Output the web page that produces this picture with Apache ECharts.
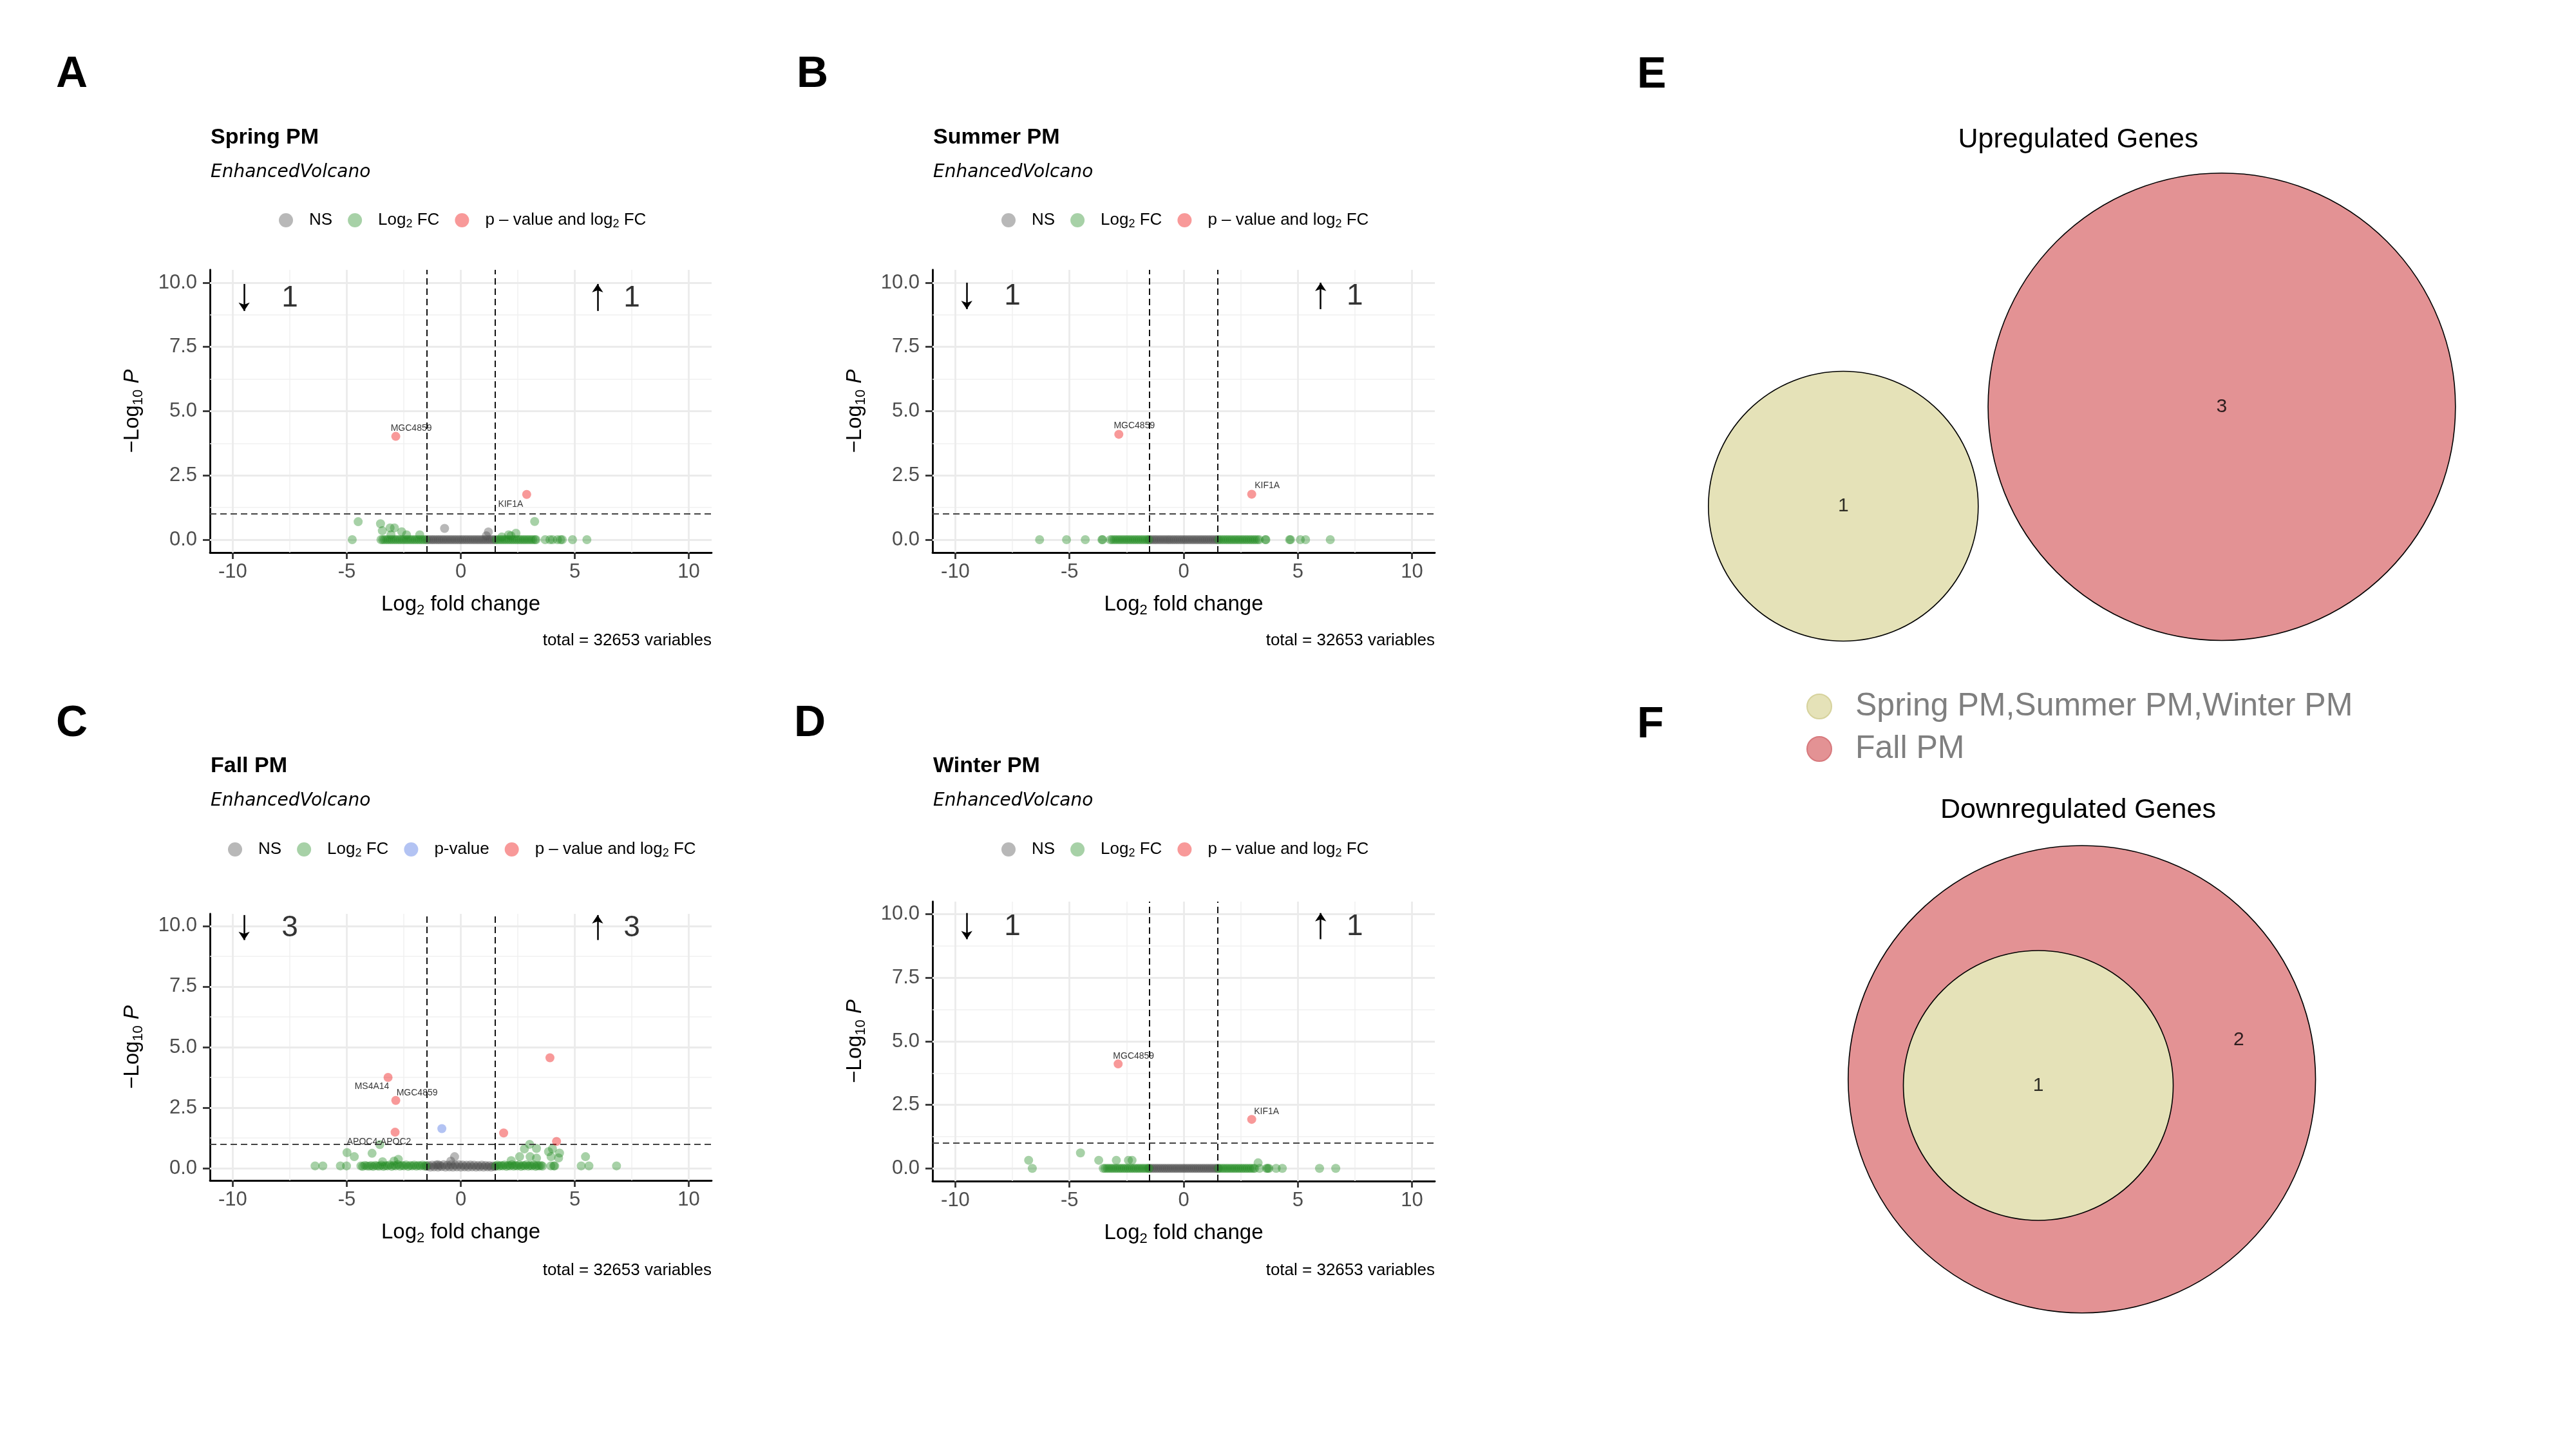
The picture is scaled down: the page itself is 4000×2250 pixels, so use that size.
<!DOCTYPE html>
<html><head><meta charset="utf-8">
<script src="https://cdn.jsdelivr.net/npm/echarts@6/dist/echarts.min.js"></script>
<style>html,body{margin:0;padding:0;background:#fff}#c{width:4000px;height:2250px}</style>
</head><body><div id="c"></div>
<script>
// ================= DATA =================
const volcanoTitles = ['Spring PM', 'Summer PM', 'Fall PM', 'Winter PM'];
const volcanoSubtitle = 'EnhancedVolcano';
const volcanoCaption = 'total = 32653 variables';
const panelLetters = ['A', 'B', 'C', 'D', 'E', 'F'];
const xTicks = [-10, -5, 0, 5, 10];
const xMinorTicks = [-7.5, -2.5, 2.5, 7.5];
const yTicks = [0, 2.5, 5, 7.5, 10];
const yMinorTicks = [1.25, 3.75, 6.25, 8.75];
const xRange = [-11, 11];
const yRange = [-0.5, 10.5];
const fcCutoffs = [-1.5, 1.5];
const pCutoff = 1;
const legendNames = { NS: 'NS', FC: 'Log2 FC', P: 'p-value', SIG: 'p-value and log2 FC' };

// Spring PM
const springNSBand = [-1.48,-1.4,-1.31,-1.23,-1.15,-1.06,-0.98,-0.9,-0.81,-0.73,-0.64,-0.56,-0.47,-0.39,-0.3,-0.22,-0.13,-0.05,0.04,0.12,0.21,0.29,0.38,0.46,0.55,0.63,0.72,0.8,0.89,0.97,1.06,1.14,1.23,1.31,1.4,1.48];
const springNSPts = [[-0.71,0.44],[1.21,0.3],[1.12,0.15]];
const springFCBand = [-3.5,-3.42,-3.34,-3.25,-3.17,-3.08,-3.0,-2.91,-2.83,-2.74,-2.66,-2.57,-2.49,-2.4,-2.32,-2.23,-2.15,-2.06,-1.98,-1.89,-1.81,-1.72,-1.64,-1.55,1.55,1.63,1.72,1.8,1.89,1.97,2.06,2.14,2.23,2.31,2.4,2.48,2.57,2.65,2.74,2.82,2.91,2.99,3.08,3.16,3.25,3.3];
const springFCPts = [[-4.76,0],[-4.5,0.7],[-3.52,0.62],[-3.44,0.35],[-3.1,0.46],[-2.91,0.46],[-3.06,0.19],[-2.59,0.31],[-2.38,0.19],[-1.8,0.19],[1.8,0.11],[2.1,0.19],[2.2,0.15],[2.42,0.25],[3.24,0.71],[3.7,0],[3.91,0],[4.03,0],[4.24,0],[4.38,0],[4.45,0],[4.9,0],[5.53,0]];
const springSig = [[-2.85,4.02,'MGC4859'],[2.89,1.76,'KIF1A']];
const springCounts = [1, 1]; // [down, up]

// Summer PM
const summerNSBand = [-1.49,-1.41,-1.32,-1.24,-1.16,-1.07,-0.99,-0.9,-0.82,-0.73,-0.65,-0.57,-0.48,-0.4,-0.31,-0.23,-0.14,-0.06,0.03,0.11,0.2,0.28,0.37,0.45,0.54,0.62,0.71,0.79,0.88,0.96,1.05,1.13,1.22,1.3,1.39,1.47];
const summerNSPts = [];
const summerFCBand = [-3.21,-3.13,-3.04,-2.96,-2.87,-2.79,-2.7,-2.62,-2.53,-2.45,-2.36,-2.28,-2.19,-2.11,-2.02,-1.94,-1.85,-1.77,-1.68,-1.6,-1.53,1.53,1.61,1.7,1.78,1.87,1.95,2.04,2.12,2.21,2.29,2.38,2.46,2.55,2.63,2.72,2.8,2.89,2.97,3.06,3.14,3.23,3.31];
const summerFCPts = [[-6.31,0],[-5.13,0],[-4.31,0],[-3.58,0],[-3.55,0],[3.58,0],[3.6,0],[4.64,0],[4.68,0],[5.11,0],[5.34,0],[6.42,0]];
const summerSig = [[-2.84,4.1,'MGC4859'],[2.98,1.77,'KIF1A']];
const summerCounts = [1, 1];

// Fall PM
const fallNSBand = [[-1.49,0.08],[-1.41,0.12],[-1.33,0.05],[-1.25,0.13],[-1.17,0.06],[-1.08,0.14],[-1.0,0.05],[-0.92,0.12],[-0.84,0.07],[-0.75,0.15],[-0.67,0.05],[-0.59,0.13],[-0.5,0.06],[-0.42,0.15],[-0.34,0.05],[-0.25,0.14],[-0.17,0.06],[-0.09,0.15],[0.0,0.05],[0.08,0.14],[0.17,0.06],[0.25,0.13],[0.33,0.05],[0.42,0.14],[0.5,0.06],[0.58,0.13],[0.67,0.05],[0.75,0.12],[0.83,0.06],[0.92,0.13],[1.0,0.05],[1.08,0.12],[1.17,0.06],[1.25,0.11],[1.33,0.05],[1.41,0.1],[1.49,0.07]];
const fallNSPts = [[-0.27,0.48],[-0.44,0.3],[-1.0,0.15]];
const fallFCBand = [[-4.38,0.1],[-4.3,0.08],[-4.21,0.12],[-4.12,0.1],[-4.02,0.09],[-3.93,0.11],[-3.84,0.08],[-3.75,0.12],[-3.66,0.1],[-3.57,0.09],[-3.48,0.13],[-3.39,0.08],[-3.3,0.11],[-3.21,0.1],[-3.12,0.14],[-3.03,0.08],[-2.94,0.12],[-2.85,0.1],[-2.76,0.15],[-2.67,0.09],[-2.58,0.12],[-2.49,0.1],[-2.4,0.14],[-2.31,0.08],[-2.22,0.12],[-2.13,0.1],[-2.04,0.13],[-1.95,0.09],[-1.86,0.12],[-1.77,0.1],[-1.68,0.13],[-1.59,0.09],[-1.53,0.11],[1.53,0.1],[1.6,0.13],[1.68,0.09],[1.76,0.12],[1.84,0.1],[1.92,0.14],[2.0,0.08],[2.08,0.12],[2.16,0.1],[2.24,0.15],[2.32,0.09],[2.4,0.12],[2.48,0.1],[2.56,0.14],[2.64,0.08],[2.72,0.12],[2.8,0.1],[2.88,0.15],[2.96,0.09],[3.04,0.12],[3.12,0.1],[3.2,0.14],[3.28,0.08],[3.36,0.11],[3.44,0.1],[3.52,0.12],[3.58,0.09]];
const fallFCPts = [[-6.39,0.1],[-6.05,0.1],[-5.28,0.1],[-5.01,0.1],[-4.99,0.65],[-4.67,0.48],[-3.89,0.62],[-3.55,0.98],[-3.43,0.27],[-2.93,0.3],[-2.74,0.37],[3.02,0.99],[2.79,0.8],[3.32,0.82],[2.58,0.48],[3.04,0.48],[3.32,0.42],[2.21,0.32],[3.85,0.69],[4.02,0.81],[3.96,0.48],[4.29,0.43],[4.33,0.63],[5.47,0.48],[5.28,0.1],[5.62,0.1],[6.83,0.1],[3.95,0.1],[4.08,0.1],[4.12,0.1]];
const fallPval = [[-0.83,1.64]];
const fallSig = [[3.91,4.56,''],[-3.19,3.75,'MS4A14'],[-2.85,2.8,'MGC4859'],[-2.88,1.49,'APOC4-APOC2'],[1.88,1.46,''],[4.2,1.11,'']];
const fallCounts = [3, 3];

// Winter PM
const winterNSBand = [-1.48,-1.39,-1.31,-1.22,-1.14,-1.05,-0.97,-0.88,-0.8,-0.71,-0.63,-0.54,-0.46,-0.37,-0.29,-0.2,-0.12,-0.03,0.05,0.14,0.22,0.31,0.39,0.48,0.56,0.65,0.73,0.82,0.9,0.99,1.07,1.16,1.24,1.33,1.41,1.49];
const winterNSPts = [];
const winterFCBand = [-3.52,-3.44,-3.35,-3.27,-3.18,-3.1,-3.01,-2.93,-2.84,-2.76,-2.67,-2.59,-2.5,-2.42,-2.33,-2.25,-2.16,-2.08,-1.99,-1.91,-1.82,-1.74,-1.65,-1.57,-1.52,1.52,1.6,1.69,1.77,1.86,1.94,2.03,2.11,2.2,2.28,2.37,2.45,2.54,2.62,2.71,2.79,2.88,2.96,3.05,3.11];
const winterFCPts = [[-6.79,0.32],[-6.63,0],[-4.52,0.61],[-3.72,0.32],[-2.95,0.32],[-2.42,0.32],[-2.26,0.32],[3.26,0.22],[3.32,0],[3.63,0],[3.68,0],[3.73,0],[4.05,0],[4.32,0],[5.95,0],[6.66,0]];
const winterSig = [[-2.87,4.11,'MGC4859'],[2.98,1.93,'KIF1A']];
const winterCounts = [1, 1];

// Venn diagrams
const vennTitles = ['Upregulated Genes', 'Downregulated Genes'];
const vennSetNames = ['Spring PM,Summer PM,Winter PM', 'Fall PM'];
const upSetSizes = [1, 3];
const upCenters = [[0, 0], [2.805, 0.737]];
const upRegionLabels = [['1', 0, 0], ['3', 2.805, 0.737]];
const downSetSizes = [1, 3];
const downCenters = [[-0.323, -0.046], [0, 0]];
const downRegionLabels = [['1', -0.323, -0.046], ['2', 1.163, 0.293]];

// ================= STYLE / LAYOUT =================
const FONT = "'Liberation Sans', Arial, Helvetica, sans-serif";
const COL = { NS: 'rgba(77,77,77,0.5)', FC: 'rgba(34,139,34,0.5)', P: 'rgba(65,105,225,0.5)', SIG: 'rgba(238,0,0,0.5)' };
const VENN_COL = ['#E5E2B8', '#E39294'];
const VENN_BORDER = ['#D6D29C', '#D7797D'];
const layouts = [
  { grid: {left: 326, top: 419, width: 779, height: 439}, legendLeft: 428, legendTop: 324, titleX: 327, titleY: 214, subY: 268, captionX: 1105, captionY: 995, letter: [87, 116], countY: 9.4, arrowY: [9.95, 8.9],
    labelOff: {MGC4859: [24, -12], KIF1A: [-25, 15]} },
  { grid: {left: 1448, top: 419, width: 780, height: 439}, legendLeft: 1550, legendTop: 324, titleX: 1449, titleY: 214, subY: 268, captionX: 2228, captionY: 995, letter: [1237, 116], countY: 9.47, arrowY: [10.0, 8.97],
    labelOff: {MGC4859: [24, -13], KIF1A: [24, -13]} },
  { grid: {left: 326, top: 1419, width: 779, height: 414}, legendLeft: 349, legendTop: 1301, titleX: 327, titleY: 1190, subY: 1244, captionX: 1105, captionY: 1973, letter: [87, 1124], countY: 9.9, arrowY: [10.45, 9.42],
    labelOff: {MS4A14: [-25, 14], MGC4859: [33, -12], 'APOC4-APOC2': [-25, 15]} },
  { grid: {left: 1448, top: 1400, width: 780, height: 434}, legendLeft: 1550, legendTop: 1301, titleX: 1449, titleY: 1190, subY: 1244, captionX: 2228, captionY: 1973, letter: [1233, 1124], countY: 9.5, arrowY: [10.05, 9.02],
    labelOff: {MGC4859: [24, -12], KIF1A: [23, -12]} }
];
const vennUnitPx = 209.5;
const vennLayouts = [
  { grid: {left: 2600, top: 240, width: 1300, height: 800}, origin: [2862.3, 786], title: [3227, 217], letter: [2542, 117] },
  { grid: {left: 2800, top: 1280, width: 860, height: 800}, origin: [3232.7, 1675.9], title: [3227, 1258], letter: [2542, 1126] }
];

// ================= BUILD =================
const panelsData = [
  { ns: springNSBand.map(x => [x, 0]).concat(springNSPts), fc: springFCBand.map(x => [x, 0]).concat(springFCPts), pv: [], sig: springSig, counts: springCounts },
  { ns: summerNSBand.map(x => [x, 0]).concat(summerNSPts), fc: summerFCBand.map(x => [x, 0]).concat(summerFCPts), pv: [], sig: summerSig, counts: summerCounts },
  { ns: fallNSBand.concat(fallNSPts), fc: fallFCBand.concat(fallFCPts), pv: fallPval, sig: fallSig, counts: fallCounts },
  { ns: winterNSBand.map(x => [x, 0]).concat(winterNSPts), fc: winterFCBand.map(x => [x, 0]).concat(winterFCPts), pv: [], sig: winterSig, counts: winterCounts }
];

const grids = [], xAxes = [], yAxes = [], series = [], legends = [], graphics = [];
const richName = {
  t: {fontSize: 33, lineHeight: 40, color: '#000', fontFamily: FONT},
  s: {fontSize: 22, lineHeight: 16, verticalAlign: 'bottom', color: '#000', fontFamily: FONT},
  i: {fontSize: 33, lineHeight: 40, color: '#000', fontFamily: FONT, fontStyle: 'italic'}
};
const legendFmt = {
  'NS': '{t|NS}',
  'Log2 FC': '{t|Log}{s|2}{t| FC}',
  'p-value': '{t|p-value}',
  'p-value and log2 FC': '{t|p \u2013 value and log}{s|2}{t| FC}'
};
function txt(x, y, text, font, fill, align, valign) {
  return { type: 'text', x: x, y: y, silent: true, z: 100,
    style: { text: text, font: font, fill: fill || '#000', align: align || 'left', verticalAlign: valign || 'middle',
      textAlign: align || 'left', textVerticalAlign: valign || 'middle' } };
}
function gridLineItems() {
  const major = {color: '#EBEBEB', width: 2.8, type: 'solid'};
  const minor = {color: '#F0F0F0', width: 1.5, type: 'solid'};
  return [].concat(
    xMinorTicks.map(v => ({xAxis: v, lineStyle: minor})),
    yMinorTicks.map(v => ({yAxis: v, lineStyle: minor})),
    xTicks.map(v => ({xAxis: v, lineStyle: major})),
    yTicks.map(v => ({yAxis: v, lineStyle: major}))
  );
}

panelsData.forEach((d, i) => {
  const L = layouts[i];
  grids.push(Object.assign({containLabel: false, outerBoundsMode: 'none'}, L.grid));
  xAxes.push({
    gridIndex: i, type: 'value', min: xRange[0], max: xRange[1],
    axisLine: {show: true, onZero: false, lineStyle: {color: '#000', width: 2.8}},
    axisTick: {show: true, customValues: xTicks, length: 10, lineStyle: {color: '#333', width: 2.8}},
    axisLabel: {customValues: xTicks, fontSize: 31, color: '#4D4D4D', margin: 15, fontFamily: FONT, formatter: v => String(v)},
    splitLine: {show: false},
    name: '{t|Log}{s|2}{t| fold change}', nameLocation: 'middle', nameGap: 61,
    nameTextStyle: {rich: richName}
  });
  yAxes.push({
    gridIndex: i, type: 'value', min: yRange[0], max: yRange[1],
    axisLine: {show: true, onZero: false, lineStyle: {color: '#000', width: 2.8}},
    axisTick: {show: true, customValues: yTicks, length: 11, lineStyle: {color: '#333', width: 2.8}},
    axisLabel: {customValues: yTicks, fontSize: 31, color: '#4D4D4D', margin: 20, fontFamily: FONT, formatter: v => v.toFixed(1)},
    splitLine: {show: false},
    name: '{t|\u2212Log}{s|10}{i| P}', nameLocation: 'middle', nameGap: 100, nameRotate: 90,
    nameTextStyle: {rich: richName}
  });
  // background grid lines (below the points)
  series.push({ type: 'scatter', name: '_grid' + i, xAxisIndex: i, yAxisIndex: i, data: [], z: 1, silent: true,
    markLine: { z: 1, silent: true, symbol: ['none', 'none'], label: {show: false}, animation: false, data: gridLineItems() } });
  const pt = (name, data, color, z) => ({ type: 'scatter', name: name, xAxisIndex: i, yAxisIndex: i, data: data, symbol: 'circle',
    symbolSize: 14, itemStyle: {color: color}, z: z, silent: true, animation: false });
  series.push(pt(legendNames.NS, d.ns, COL.NS, 2));
  series.push(pt(legendNames.FC, d.fc, COL.FC, 2));
  if (d.pv.length) series.push(pt(legendNames.P, d.pv, COL.P, 2));
  // cutoff lines (above the points)
  series.push({ type: 'scatter', name: '_cut' + i, xAxisIndex: i, yAxisIndex: i, data: [], z: 3, silent: true,
    markLine: { z: 3, silent: true, symbol: ['none', 'none'], label: {show: false}, animation: false,
      data: fcCutoffs.map(v => ({xAxis: v, lineStyle: {color: '#111', width: 2, type: [10, 6]}}))
        .concat([{yAxis: pCutoff, lineStyle: {color: '#444', width: 2, type: [10, 6]}}]) } });
  // significant points with labels
  const sigSeries = pt(legendNames.SIG, d.sig.map(s => {
    const off = L.labelOff[s[2]] || [0, 0];
    return { value: [s[0], s[1]], name: s[2],
      label: { show: !!s[2], position: 'inside', offset: off, formatter: s[2], fontSize: 14, color: '#000', fontFamily: FONT } };
  }), COL.SIG, 4);
  series.push(sigSeries);
  // up / down count annotations
  series.push({ type: 'scatter', name: '_count' + i, xAxisIndex: i, yAxisIndex: i, z: 5, silent: true, symbol: 'circle', symbolSize: 1,
    itemStyle: {color: 'rgba(0,0,0,0)'},
    data: [ {value: [-7.5, L.countY], name: String(d.counts[0])}, {value: [7.5, L.countY], name: String(d.counts[1])} ],
    label: { show: true, position: 'inside', formatter: p => p.name, fontSize: 46, color: '#000', fontFamily: FONT },
    markLine: { z: 5, silent: true, symbol: ['none', 'arrow'], symbolSize: 13, label: {show: false}, animation: false,
      lineStyle: {color: '#000', width: 2.5, type: 'solid'},
      data: [ [{coord: [-9.5, L.arrowY[0]]}, {coord: [-9.5, L.arrowY[1]]}], [{coord: [6, L.arrowY[1]]}, {coord: [6, L.arrowY[0]]}] ] } });
  // legend
  const items = [legendNames.NS, legendNames.FC].concat(d.pv.length ? [legendNames.P] : []).concat([legendNames.SIG]);
  legends.push({ orient: 'horizontal', left: L.legendLeft, top: L.legendTop, icon: 'circle', itemWidth: 22, itemHeight: 22, itemGap: 24,
    selectedMode: false, data: items, formatter: n => legendFmt[n],
    textStyle: { padding: [0, 0, 0, 20], fontSize: 26, color: '#000', fontFamily: FONT,
      rich: { t: {fontSize: 26, lineHeight: 30, color: '#000', fontFamily: FONT},
              s: {fontSize: 18, lineHeight: 14, verticalAlign: 'bottom', color: '#000', fontFamily: FONT} } } });
  // texts
  graphics.push(txt(L.letter[0], L.letter[1], panelLetters[i], "bold 68px 'Liberation Sans', Arial"));
  graphics.push(txt(L.titleX, L.titleY, volcanoTitles[i], "bold 34px 'Liberation Sans', Arial"));
  graphics.push(txt(L.titleX, L.subY, volcanoSubtitle, "italic 28px 'DejaVu Sans', sans-serif"));
  graphics.push(txt(L.captionX, L.captionY, volcanoCaption, "26px 'Liberation Sans', Arial", '#000', 'right'));
});

// Venn grids
function circleItem(params, api) {
  const c = api.coord([api.value(0), api.value(1)]);
  const r = api.size([Math.sqrt(api.value(2)), 0])[0];
  return { type: 'circle', shape: {cx: c[0], cy: c[1], r: r}, style: {fill: api.visual('color'), stroke: '#000', lineWidth: 1.6} };
}
const vennSpecs = [
  { sizes: upSetSizes, centers: upCenters, labels: upRegionLabels, order: [0, 1] },
  { sizes: downSetSizes, centers: downCenters, labels: downRegionLabels, order: [1, 0] }
];
vennSpecs.forEach((v, k) => {
  const gi = 4 + k, VL = vennLayouts[k], g = VL.grid, o = VL.origin;
  grids.push(Object.assign({containLabel: false, outerBoundsMode: 'none'}, g));
  xAxes.push({ gridIndex: gi, type: 'value', show: false, min: (g.left - o[0]) / vennUnitPx, max: (g.left + g.width - o[0]) / vennUnitPx });
  yAxes.push({ gridIndex: gi, type: 'value', show: false, min: (o[1] - g.top - g.height) / vennUnitPx, max: (o[1] - g.top) / vennUnitPx });
  v.order.forEach((s, n) => {
    series.push({ type: 'custom', name: vennSetNames[s], xAxisIndex: gi, yAxisIndex: gi, silent: true, z: 2 + n,
      itemStyle: {color: VENN_COL[s]}, renderItem: circleItem,
      data: [[v.centers[s][0], v.centers[s][1], v.sizes[s]]] });
  });
  series.push({ type: 'scatter', name: '_vlab' + k, xAxisIndex: gi, yAxisIndex: gi, silent: true, z: 10, symbol: 'circle', symbolSize: 1,
    itemStyle: {color: 'rgba(0,0,0,0)'},
    data: v.labels.map(l => ({value: [l[1], l[2]], name: l[0]})),
    label: { show: true, position: 'inside', formatter: p => p.name, fontSize: 30, color: '#000', fontFamily: FONT } });
  graphics.push(txt(VL.title[0], VL.title[1], vennTitles[k], "43px 'Liberation Sans', Arial", '#000', 'center'));
  graphics.push(txt(VL.letter[0], VL.letter[1], panelLetters[4 + k], "bold 68px 'Liberation Sans', Arial"));
});
legends.push({ orient: 'vertical', left: 2800, top: 1067, icon: 'circle', itemWidth: 38, itemHeight: 38, itemGap: 16, selectedMode: false,
  textStyle: {fontSize: 50, lineHeight: 50, color: '#7F7F7F', fontFamily: FONT, padding: [0, 0, 0, 32]},
  data: vennSetNames.map((n, s) => ({ name: n, itemStyle: {color: VENN_COL[s], borderColor: VENN_BORDER[s], borderWidth: 2} })) });

const option = {
  animation: false,
  backgroundColor: '#fff',
  textStyle: {fontFamily: FONT},
  grid: grids, xAxis: xAxes, yAxis: yAxes, series: series, legend: legends,
  graphic: {elements: graphics}
};
const chart = echarts.init(document.getElementById('c'), null, {renderer: 'canvas', width: 4000, height: 2250});
chart.setOption(option);
</script></body></html>
